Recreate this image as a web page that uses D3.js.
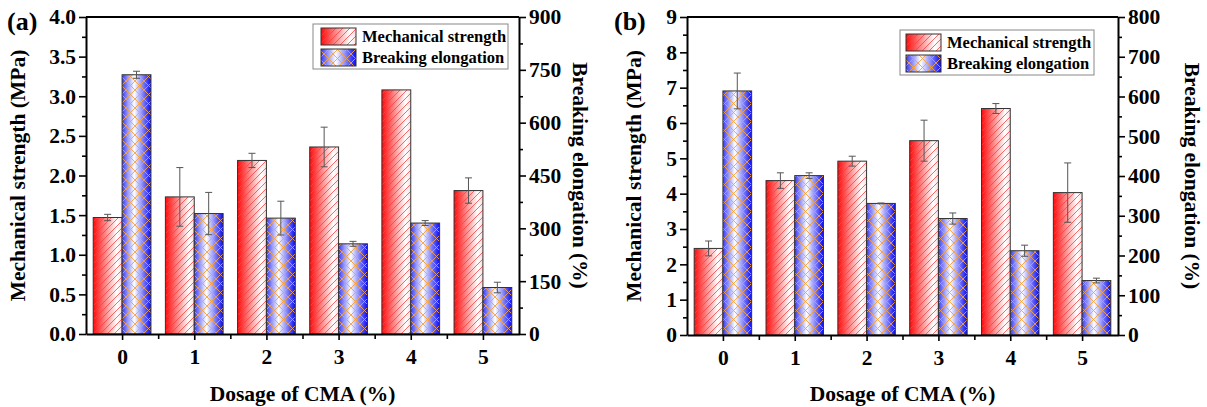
<!DOCTYPE html>
<html>
<head>
<meta charset="utf-8">
<script src="https://cdn.jsdelivr.net/npm/d3@7/dist/d3.min.js"></script>
<style>
  body { margin: 0; background: #fff; }
  svg { display: block; font-family: "Liberation Serif", "Times New Roman", serif; font-weight: bold; }
</style>
</head>
<body>
<div id="chart"></div>
<script>
// categories (dosage of CMA, %)
var doses = ["0", "1", "2", "3", "4", "5"];

// panel (a)
var strengthA    = [1.47, 1.73, 2.19, 2.36, 3.08, 1.81];
var strengthErrA = [0.04, 0.37, 0.09, 0.25, 0.00, 0.16];
var elongA       = [736, 342, 329, 256, 315, 132];
var elongErrA    = [10, 60, 48, 7, 7, 15];
var leftTicksA   = [0.0, 0.5, 1.0, 1.5, 2.0, 2.5, 3.0, 3.5, 4.0];
var rightTicksA  = [0, 150, 300, 450, 600, 750, 900];

// panel (b)
var strengthB    = [2.45, 4.37, 4.92, 5.50, 6.41, 4.03];
var strengthErrB = [0.21, 0.22, 0.14, 0.58, 0.14, 0.84];
var elongB       = [614, 401, 331, 293, 212, 137];
var elongErrB    = [45, 7, 1, 14, 14, 6];
var leftTicksB   = [0, 1, 2, 3, 4, 5, 6, 7, 8, 9];
var rightTicksB  = [0, 100, 200, 300, 400, 500, 600, 700, 800];

var seriesNames = ["Mechanical strength", "Breaking elongation"];

var W = 1207, H = 407;
var svg = d3.select("#chart").append("svg")
	.attr("width", W).attr("height", H);

var defs = svg.append("defs");

// red gradient (left strong red -> white)
var gr = defs.append("linearGradient").attr("id", "gradRed")
	.attr("x1", "0%").attr("x2", "100%").attr("y1", "0%").attr("y2", "0%");
gr.append("stop").attr("offset", "0%").attr("stop-color", "#ff0a0a");
gr.append("stop").attr("offset", "82%").attr("stop-color", "#ffffff");
gr.append("stop").attr("offset", "100%").attr("stop-color", "#ffdede");

// blue gradient (blue -> white -> blue)
var gb = defs.append("linearGradient").attr("id", "gradBlue")
	.attr("x1", "0%").attr("x2", "100%").attr("y1", "0%").attr("y2", "0%");
gb.append("stop").attr("offset", "0%").attr("stop-color", "#3a3af0");
gb.append("stop").attr("offset", "42%").attr("stop-color", "#ffffff");
gb.append("stop").attr("offset", "100%").attr("stop-color", "#0b0bf0");

// hatch patterns
defs.append("pattern").attr("id", "hatchRed")
	.attr("patternUnits", "userSpaceOnUse").attr("width", 7).attr("height", 7)
	.append("path")
	.attr("d", "M0,7 L7,0 M-1,1 L1,-1 M6,8 L8,6")
	.attr("stroke", "#ff4040").attr("stroke-width", 0.8);

defs.append("pattern").attr("id", "hatchCross")
	.attr("patternUnits", "userSpaceOnUse").attr("width", 9).attr("height", 9)
	.append("path")
	.attr("d", "M0,9 L9,0 M-1,1 L1,-1 M8,10 L10,8 M0,0 L9,9 M-1,8 L1,10 M8,-1 L10,1")
	.attr("stroke", "#f5a040").attr("stroke-width", 0.9);

var fills = [["url(#gradRed)", "url(#hatchRed)"], ["url(#gradBlue)", "url(#hatchCross)"]];

var FS = "21.5px";

function draw_panel(p) {
	var g = svg.append("g");

	var x = d3.scaleLinear().domain([-0.5, 5.5]).range([p.left, p.right]);
	var yL = d3.scaleLinear().domain(p.leftDomain).range([p.bottom, p.top]);
	var yR = d3.scaleLinear().domain(p.rightDomain).range([p.bottom, p.top]);
	var barW = 0.4;

	// bars
	var series = [
		{ vals: p.strength, errs: p.strengthErr, y: yL, off: -barW },
		{ vals: p.elong, errs: p.elongErr, y: yR, off: 0 }
	];
	series.forEach(function(s, k) {
		s.vals.forEach(function(v, i) {
			var x0 = x(i + s.off), x1 = x(i + s.off + barW);
			g.append("rect").attr("x", x0).attr("y", s.y(v))
				.attr("width", x1 - x0).attr("height", s.y(0) - s.y(v))
				.attr("fill", fills[k][0]);
			g.append("rect").attr("x", x0).attr("y", s.y(v))
				.attr("width", x1 - x0).attr("height", s.y(0) - s.y(v))
				.attr("fill", fills[k][1])
				.attr("stroke", "#333").attr("stroke-width", 1);
		});
	});

	// error bars
	series.forEach(function(s) {
		s.vals.forEach(function(v, i) {
			if (!s.errs[i]) return;
			var cx = x(i + s.off + barW / 2);
			var yt = s.y(v + s.errs[i]), yb = s.y(v - s.errs[i]);
			g.append("line").attr("x1", cx).attr("x2", cx).attr("y1", yt).attr("y2", yb)
				.attr("stroke", "#555").attr("stroke-width", 1);
			[yt, yb].forEach(function(yy) {
				g.append("line").attr("x1", cx - 3.5).attr("x2", cx + 3.5).attr("y1", yy).attr("y2", yy)
					.attr("stroke", "#555").attr("stroke-width", 1);
			});
		});
	});

	// minor ticks
	var stepL = p.leftTicks[1] - p.leftTicks[0];
	var stepR = p.rightTicks[1] - p.rightTicks[0];
	var minorL = d3.range(p.leftDomain[0] + stepL / 2, p.leftDomain[1], stepL);
	var minorR = d3.range(p.rightDomain[0] + stepR / 2, p.rightDomain[1], stepR);

	// left axis
	g.append("g").attr("transform", "translate(" + p.left + ",0)")
		.call(d3.axisLeft(yL).tickValues(p.leftTicks).tickFormat(d3.format(p.leftFormat))
			.tickSizeInner(7).tickSizeOuter(0).tickPadding(3));
	g.append("g").attr("transform", "translate(" + p.left + ",0)")
		.call(d3.axisLeft(yL).tickValues(minorL).tickFormat("").tickSizeInner(4).tickSizeOuter(0))
		.select(".domain").remove();

	// right axis
	g.append("g").attr("transform", "translate(" + p.right + ",0)")
		.call(d3.axisRight(yR).tickValues(p.rightTicks)
			.tickSizeInner(7).tickSizeOuter(0).tickPadding(3));
	g.append("g").attr("transform", "translate(" + p.right + ",0)")
		.call(d3.axisRight(yR).tickValues(minorR).tickFormat("").tickSizeInner(4).tickSizeOuter(0))
		.select(".domain").remove();

	// bottom axis
	g.append("g").attr("transform", "translate(0," + p.bottom + ")")
		.call(d3.axisBottom(x).tickValues(d3.range(0, 6)).tickFormat(function(d) { return doses[d]; })
			.tickSizeInner(6).tickSizeOuter(0).tickPadding(9));
	g.append("g").attr("transform", "translate(0," + p.bottom + ")")
		.call(d3.axisBottom(x).tickValues(d3.range(-0.5, 5.6, 1).slice(1, 6)).tickFormat("")
			.tickSizeInner(5).tickSizeOuter(0))
		.select(".domain").remove();

	// top frame line
	g.append("line").attr("x1", p.left).attr("x2", p.right)
		.attr("y1", p.top).attr("y2", p.top)
		.attr("stroke", "#000").attr("stroke-width", 2);

	g.selectAll(".domain").attr("stroke", "#000").attr("stroke-width", 2);
	g.selectAll(".tick line").attr("stroke", "#000").attr("stroke-width", 1.6);
	g.selectAll(".tick text").attr("fill", "#000")
		.style("font-family", "'Liberation Serif', serif").style("font-weight", "bold")
		.style("font-size", FS);

	// axis titles
	g.append("text").text("Mechanical strength (MPa)")
		.attr("transform", "translate(" + p.leftTitleX + "," + (p.top + p.bottom) / 2 + ") rotate(-90)")
		.attr("text-anchor", "middle").attr("dy", "0.35em").style("font-size", FS);
	g.append("text").text("Breaking elongation (%)")
		.attr("transform", "translate(" + p.rightTitleX + "," + (p.top + p.bottom) / 2 + ") rotate(90)")
		.attr("text-anchor", "middle").attr("dy", "0.35em").style("font-size", FS);
	g.append("text").text("Dosage of CMA (%)")
		.attr("x", (p.left + p.right) / 2).attr("y", 401)
		.attr("text-anchor", "middle").style("font-size", FS);

	// panel label
	g.append("text").text(p.label).attr("x", p.labelX).attr("y", 30)
		.style("font-size", "26px");

	// legend
	var L = p.legend;
	g.append("rect").attr("x", L.x).attr("y", L.y).attr("width", L.w).attr("height", L.h)
		.attr("fill", "#fff").attr("stroke", "#888").attr("stroke-width", 1);
	seriesNames.forEach(function(name, k) {
		var sy = L.y + 4 + k * 21;
		fills[k].forEach(function(f, j) {
			var r = g.append("rect").attr("x", L.x + L.pad).attr("y", sy)
				.attr("width", 35).attr("height", 17).attr("fill", f);
			if (j == 1) r.attr("stroke", "#333").attr("stroke-width", 1);
		});
		g.append("text").text(name).attr("x", L.x + L.pad + 41).attr("y", sy + 14)
			.style("font-size", "16.5px");
	});
}

draw_panel({
	left: 86, right: 519, top: 17, bottom: 334,
	leftDomain: [0, 4], rightDomain: [0, 900],
	leftTicks: leftTicksA, rightTicks: rightTicksA, leftFormat: ".1f",
	strength: strengthA, strengthErr: strengthErrA, elong: elongA, elongErr: elongErrA,
	leftTitleX: 17, rightTitleX: 581, label: "(a)", labelX: 7,
	legend: { x: 313, y: 24, w: 195, h: 45, pad: 8 }
});

draw_panel({
	left: 687, right: 1118, top: 17, bottom: 335,
	leftDomain: [0, 9], rightDomain: [0, 800],
	leftTicks: leftTicksB, rightTicks: rightTicksB, leftFormat: "d",
	strength: strengthB, strengthErr: strengthErrB, elong: elongB, elongErr: elongErrB,
	leftTitleX: 633, rightTitleX: 1193, label: "(b)", labelX: 614,
	legend: { x: 900, y: 30, w: 194, h: 45, pad: 6 }
});
</script>
</body>
</html>
